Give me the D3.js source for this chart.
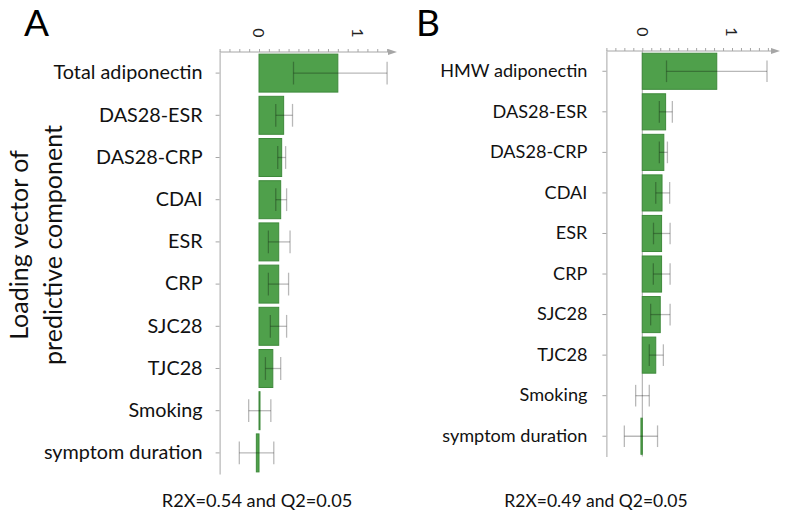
<!DOCTYPE html>
<html>
<head>
<meta charset="utf-8">
<script src="https://cdn.jsdelivr.net/npm/d3@7"></script>
<style>
  body { margin: 0; background: #fff; }
  svg { font-family: Lato, "Open Sans", sans-serif; }
</style>
</head>
<body>
<div id="vis-holder"></div>
<script>
// Chart size
const width = 793;
const height = 515;

// Panel A data (loading vector with confidence interval)
const catsA = ["Total adiponectin", "DAS28-ESR", "DAS28-CRP", "CDAI", "ESR", "CRP", "SJC28", "TJC28", "Smoking", "symptom duration"];
const valsA = [0.80, 0.25, 0.23, 0.22, 0.20, 0.20, 0.20, 0.14, 0.01, -0.027];
const lowA  = [0.35, 0.17, 0.19, 0.17, 0.095, 0.095, 0.115, 0.065, -0.105, -0.20];
const highA = [1.30, 0.34, 0.27, 0.28, 0.315, 0.30, 0.28, 0.22, 0.12, 0.15];

// Panel B data
const catsB = ["HMW adiponectin", "DAS28-ESR", "DAS28-CRP", "CDAI", "ESR", "CRP", "SJC28", "TJC28", "Smoking", "symptom duration"];
const valsB = [0.83, 0.26, 0.24, 0.22, 0.215, 0.215, 0.20, 0.15, 0.0, -0.015];
const lowB  = [0.27, 0.19, 0.19, 0.15, 0.125, 0.123, 0.093, 0.078, -0.074, -0.20];
const highB = [1.39, 0.335, 0.28, 0.305, 0.31, 0.31, 0.31, 0.235, 0.078, 0.17];

// Axis ticks
const tickLabels = [0, 1];

const svg = d3.select("#vis-holder")
    .append("svg")
    .attr("width", width)
    .attr("height", height);

const axisColor = "#a6a6a6";
const barFill = "#4fa04b";
const barStroke = "#3e8a3b";

function drawPanel(p) {
  const g = svg.append("g");

  // scales
  const x = d3.scaleLinear()
      .domain(p.xDomain)
      .range(p.xRange);

  const y = d3.scaleBand()
      .domain(p.cats)
      .range(p.yRange)
      .paddingInner(p.pad)
      .paddingOuter(p.pad / 2);

  const rows = p.cats.map((c, i) => ({ cat: c, v: p.vals[i], lo: p.low[i], hi: p.high[i] }));

  // zero reference line
  if (p.zeroLine) {
    g.append("line")
        .attr("x1", x(0)).attr("x2", x(0))
        .attr("y1", p.yRange[0]).attr("y2", p.yRange[1])
        .attr("stroke", axisColor)
        .attr("stroke-width", 1);
  }

  // bars
  g.selectAll(".bar")
      .data(rows)
      .enter()
      .append("rect")
      .attr("class", "bar")
      .attr("x", (d) => Math.min(x(0), x(d.v)))
      .attr("y", (d) => y(d.cat))
      .attr("width", (d) => Math.abs(x(d.v) - x(0)))
      .attr("height", y.bandwidth())
      .attr("fill", barFill)
      .attr("stroke", barStroke)
      .attr("stroke-width", 1);

  // error bars (semi transparent so they look dark over the bars)
  const cap = y.bandwidth() * 0.3;
  const err = g.selectAll(".err")
      .data(rows)
      .enter()
      .append("g")
      .attr("class", "err")
      .attr("stroke", "#000")
      .attr("stroke-opacity", 0.28)
      .attr("stroke-width", 1.3);

  err.append("line")
      .attr("x1", (d) => x(d.lo)).attr("x2", (d) => x(d.hi))
      .attr("y1", (d) => y(d.cat) + y.bandwidth() / 2)
      .attr("y2", (d) => y(d.cat) + y.bandwidth() / 2);
  err.append("line")
      .attr("x1", (d) => x(d.lo)).attr("x2", (d) => x(d.lo))
      .attr("y1", (d) => y(d.cat) + y.bandwidth() / 2 - cap)
      .attr("y2", (d) => y(d.cat) + y.bandwidth() / 2 + cap);
  err.append("line")
      .attr("x1", (d) => x(d.hi)).attr("x2", (d) => x(d.hi))
      .attr("y1", (d) => y(d.cat) + y.bandwidth() / 2 - cap)
      .attr("y2", (d) => y(d.cat) + y.bandwidth() / 2 + cap);

  // top axis with minor ticks every 0.1
  const topAxis = g.append("g")
      .attr("transform", `translate(0,${p.yRange[0]})`)
      .call(d3.axisTop(x)
          .tickValues(d3.range(p.xDomain[0], p.xDomain[1] + 0.001, 0.1))
          .tickSize(3)
          .tickSizeOuter(0)
          .tickFormat(""));
  topAxis.select(".domain").remove();
  topAxis.selectAll("line").attr("stroke", axisColor);
  topAxis.append("line")
      .attr("x1", p.xRange[0]).attr("x2", p.arrowX - 6)
      .attr("stroke", axisColor);
  topAxis.append("path")
      .attr("d", `M${p.arrowX},0L${p.arrowX - 9},-3L${p.arrowX - 9},3Z`)
      .attr("fill", axisColor);

  // rotated tick labels
  g.selectAll(".tlab")
      .data(tickLabels)
      .enter()
      .append("text")
      .attr("class", "tlab")
      .attr("transform", (d) => `translate(${x(d)},${p.yRange[0] - 19}) rotate(90)`)
      .attr("text-anchor", "middle")
      .attr("dy", "0.35em")
      .attr("font-size", 16)
      .attr("fill", "#222")
      .text((d) => d);

  // left axis
  const leftAxis = g.append("g")
      .attr("transform", `translate(${p.xRange[0]},0)`)
      .call(d3.axisLeft(y).tickSize(4).tickSizeOuter(0).tickPadding(p.labelPad));
  leftAxis.select(".domain").attr("stroke", axisColor);
  leftAxis.selectAll(".tick line").attr("stroke", axisColor);
  leftAxis.selectAll(".tick text")
      .attr("font-size", p.labelSize)
      .attr("font-family", "Lato, sans-serif")
      .attr("fill", "#111");

  // panel letter
  svg.append("text")
      .attr("x", p.letterX)
      .attr("y", 36)
      .attr("font-size", 37)
      .attr("fill", "#000")
      .text(p.letter);

  // fit statistics
  svg.append("text")
      .attr("x", p.statX)
      .attr("y", 507)
      .attr("text-anchor", "middle")
      .attr("font-size", p.statSize)
      .attr("fill", "#111")
      .text(p.stat);
}

drawPanel({
  cats: catsA, vals: valsA, low: lowA, high: highA,
  xDomain: [-0.4, 1.3], xRange: [219.6, 387.1], arrowX: 397,
  yRange: [52, 474], pad: 0.1, zeroLine: false, labelPad: 13, labelSize: 19.8,
  letter: "A", letterX: 24, stat: "R2X=0.54 and Q2=0.05", statX: 257, statSize: 18.2
});

drawPanel({
  cats: catsB, vals: valsB, low: lowB, high: highB,
  xDomain: [-0.4, 1.4], xRange: [606.4, 767.9], arrowX: 780,
  yRange: [51, 456.5], pad: 0.11, zeroLine: true, labelPad: 15, labelSize: 18.1,
  letter: "B", letterX: 416, stat: "R2X=0.49 and Q2=0.05", statX: 596, statSize: 17.5
});

// y axis title
svg.append("text")
    .attr("transform", "translate(28,245) rotate(-90)")
    .attr("text-anchor", "middle")
    .attr("font-size", 25)
    .attr("fill", "#111")
    .call((t) => {
      t.append("tspan").attr("x", 0).attr("dy", 0).text("Loading vector of");
      t.append("tspan").attr("x", 0).attr("dy", 34).text("predictive component");
    });
</script>
</body>
</html>
